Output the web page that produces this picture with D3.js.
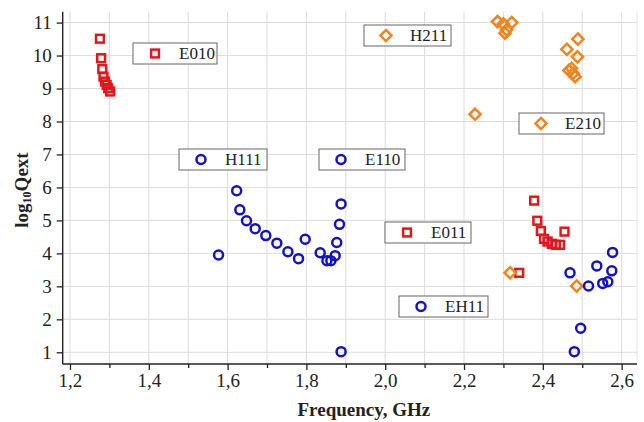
<!DOCTYPE html>
<html><head><meta charset="utf-8">
<script src="https://cdn.jsdelivr.net/npm/d3@7"></script>
<style>body{margin:0;background:#fff}svg{display:block}
text{font-family:"Liberation Serif","DejaVu Serif",serif}</style>
</head><body><svg id="c" width="644" height="422"></svg>
<script>
// ---- data ----
const e010Freq = [1.276,1.279,1.282,1.285,1.289,1.293,1.297,1.302];
const e010LogQ = [10.51,9.92,9.59,9.36,9.21,9.11,9.01,8.91];

const e011Freq = [2.378,2.386,2.395,2.403,2.412,2.423,2.433,2.444,2.455,2.340];
const e011LogQ = [5.60,4.99,4.68,4.44,4.36,4.29,4.26,4.26,4.66,3.41];

const h211Freq = [2.285,2.300,2.321,2.308,2.304,2.228,2.317];
const h211LogQ = [11.03,10.96,11.00,10.78,10.68,8.22,3.41];

const e210Freq = [2.489,2.461,2.488,2.473,2.477,2.482,2.466,2.486];
const e210LogQ = [10.50,10.19,9.96,9.61,9.46,9.36,9.55,3.01];

const h111Freq = [1.577,1.623,1.631,1.648,1.670,1.697,1.725,1.753,1.780,1.797];
const h111LogQ = [3.95,5.90,5.32,4.99,4.75,4.54,4.31,4.05,3.84,4.43];

const e110Freq = [1.835,1.852,1.862,1.873,1.877,1.884,1.888,1.888];
const e110LogQ = [4.02,3.78,3.78,3.93,4.33,4.88,5.50,1.02];

const eh11Freq = [2.469,2.537,2.577,2.575,2.516,2.552,2.565,2.496,2.480];
const eh11LogQ = [3.41,3.62,4.03,3.47,3.01,3.09,3.14,1.73,1.02];

const xTicks = [1.2,1.4,1.6,1.8,2.0,2.2,2.4,2.6];
const xTickLabels = ["1,2","1,4","1,6","1,8","2,0","2,2","2,4","2,6"];
const yTicks = [1,2,3,4,5,6,7,8,9,10,11];

const RED = "#e8141c", ORANGE = "#f0841e", BLUE = "#1212c8";
const series = [
  {name:"E010", x:e010Freq, y:e010LogQ, shape:"square", color:RED, lx:133, ly:43, lw:84},
  {name:"E011", x:e011Freq, y:e011LogQ, shape:"square", color:RED, lx:385, ly:222, lw:86},
  {name:"H211", x:h211Freq, y:h211LogQ, shape:"diamond", color:ORANGE, lx:364, ly:25, lw:87},
  {name:"E210", x:e210Freq, y:e210LogQ, shape:"diamond", color:ORANGE, lx:519, ly:113, lw:85},
  {name:"H111", x:h111Freq, y:h111LogQ, shape:"circle", color:BLUE, lx:179, ly:149, lw:88},
  {name:"E110", x:e110Freq, y:e110LogQ, shape:"circle", color:BLUE, lx:319, ly:149, lw:86},
  {name:"EH11", x:eh11Freq, y:eh11LogQ, shape:"circle", color:BLUE, lx:399, ly:296, lw:89}
];

// ---- layout ----
const L = 62.7, R = 637, T = 11.7, B = 364;
const x = d3.scaleLinear().domain([1.1815, 2.639]).range([L, R]);
const y = d3.scaleLinear().domain([0.645, 11.33]).range([B, T]);
const svg = d3.select("#c");

// grid
const g = svg.append("g");
g.selectAll(".vg").data(d3.range(12,27).map(v=>v/10)).join("line")
  .attr("x1",d=>x(d)).attr("x2",d=>x(d)).attr("y1",T).attr("y2",B)
  .attr("stroke","#dcdcdc").attr("stroke-width",1);
g.selectAll(".hg").data(yTicks).join("line")
  .attr("x1",L).attr("x2",R).attr("y1",d=>y(d)).attr("y2",d=>y(d))
  .attr("stroke","#dcdcdc").attr("stroke-width",1);
g.append("line").attr("x1",R).attr("x2",R).attr("y1",T).attr("y2",B).attr("stroke","#e4e4e4");

// axes
const xAxis = d3.axisBottom(x).tickValues(xTicks).tickFormat((d,i)=>xTickLabels[i]).tickSize(6).tickPadding(4);
const xMinor = d3.axisBottom(x).tickValues(d3.range(13,27,2).map(v=>v/10)).tickFormat("").tickSize(4);
const yAxis = d3.axisLeft(y).tickValues(yTicks).tickFormat(d3.format("d")).tickSize(6).tickPadding(5);

const gx = svg.append("g").attr("transform",`translate(0,${B})`).call(xAxis);
svg.append("g").attr("transform",`translate(0,${B})`).call(xMinor).select(".domain").remove();
const gy = svg.append("g").attr("transform",`translate(${L},0)`).call(yAxis);
[gx,gy].forEach(a=>{
  a.select(".domain").attr("stroke","#222").attr("stroke-width",1.4).attr("d", a===gx ? `M${L},0H${R}` : `M0,${T}V${B}`);
  a.selectAll(".tick text").attr("font-family",null).attr("font-size",19).attr("fill","#222");
});
svg.selectAll(".tick line").attr("stroke","#222").attr("stroke-width",1.3);

// axis titles
svg.append("text").attr("x",(L+R)/2+14).attr("y",416).attr("text-anchor","middle")
  .attr("font-weight","bold").attr("font-size",19).attr("fill","#222")
  .text("Frequency, GHz");
const yt = svg.append("text").attr("transform","translate(28,190) rotate(-90)").attr("text-anchor","middle")
  .attr("font-weight","bold").attr("font-size",19).attr("fill","#222");
yt.append("tspan").text("log");
yt.append("tspan").attr("font-size",12).attr("dy",3).text("10");
yt.append("tspan").attr("dy",-3).text("Qext");

// markers
function marker(sel, shape, color){
  if(shape==="square"){
    sel.append("rect").attr("x",-3.9).attr("y",-3.9).attr("width",7.8).attr("height",7.8)
      .attr("fill","none").attr("stroke",color).attr("stroke-width",2.5);
  } else if(shape==="circle"){
    sel.append("circle").attr("r",4.5).attr("fill","none").attr("stroke",color).attr("stroke-width",2.5);
  } else {
    sel.append("path").attr("d","M0,-5.6L5.6,0L0,5.6L-5.6,0Z")
      .attr("fill","none").attr("stroke",color).attr("stroke-width",2.5);
  }
}
series.forEach(s=>{
  const pts = s.x.map((v,i)=>[v,s.y[i]]);
  svg.append("g").selectAll("g").data(pts).join("g")
    .attr("transform",d=>`translate(${x(d[0])},${y(d[1])})`)
    .each(function(){ marker(d3.select(this), s.shape, s.color); });
});

// legend boxes
series.forEach(s=>{
  const lg = svg.append("g").attr("transform",`translate(${s.lx},${s.ly})`);
  lg.append("rect").attr("width",s.lw).attr("height",21).attr("fill","#fff")
    .attr("stroke","#666").attr("stroke-width",1);
  const m = lg.append("g").attr("transform","translate(22,10.5)");
  marker(m, s.shape, s.color);
  lg.append("text").attr("x",46).attr("y",16).attr("font-size",17)
    .attr("fill","#222").text(s.name);
});
</script></body></html>
